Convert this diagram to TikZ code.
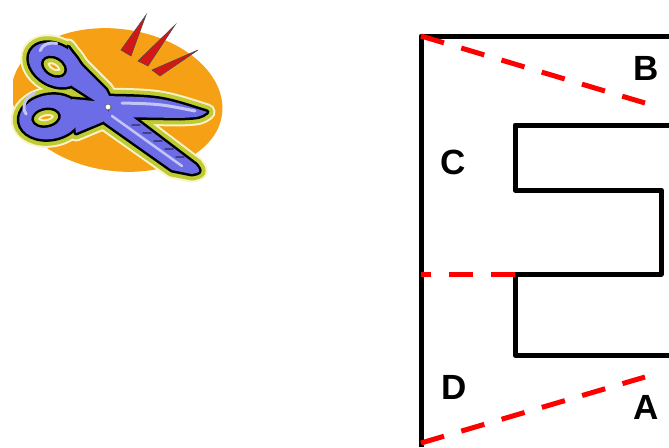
\documentclass[tikz,border=0pt]{standalone}
\usepackage{fontspec}
\setmainfont{Liberation Sans}
\definecolor{scblue}{RGB}{108,108,230}
\definecolor{schalo}{RGB}{190,204,50}
\definecolor{scglow}{RGB}{250,242,200}
\definecolor{scorange}{RGB}{246,160,22}
\definecolor{scred}{RGB}{212,22,22}
\newcommand\scissorparts[1]{%
	\path[#1,even odd rule,rotate around={-30:(55,65)}] (55,65) ellipse (28 and 20) (55,67) ellipse (14 and 10);
	\path[#1,even odd rule,rotate around={10:(50,117)}] (50,117) ellipse (31 and 22) (46,117) ellipse (15 and 10);
	\path[#1] (72,99) -- (105,102) -- (111,118) -- (100,123) -- (76,133) -- cycle;
	\path[#1] (100,96) .. controls (160,97) .. (207,112) .. controls (200,117) .. (180,118) -- (115,117) -- cycle;
	\path[#1] (68,47) -- (82,66) -- (106,90) -- (116,110) -- (100,104) -- (72,86) -- cycle;
	\path[#1] (110,108) -- (126,112) -- (196,165) .. controls (201,172) .. (192,174) -- (172,170) -- (104,122) -- cycle;
}
\begin{document}
\begin{tikzpicture}[x=1pt,y=-1pt,line cap=butt,line join=miter]
	\useasboundingbox (0,0) rectangle (669,447);
	\tikzset{
		edge/.style={line width=5pt,line join=round},
		cut/.style={red,line width=5pt,dash pattern=on 24pt off 18pt},
		lbl/.style={font=\fontsize{35}{35}\selectfont\bfseries,inner sep=0pt}
	}
	
	% scissors
	\begin{scope}
		\clip (13,0) rectangle (240,200);
		\fill[scorange,rotate around={-8:(117,100)}] (117,100) ellipse (106 and 71);
	\end{scope}
	\foreach \tx/\ty/\ax/\ay/\bx/\by in {146/15/121/50/131/56,175/25/138/61/148/66,198/50/152/70/160/76}{
		\draw[fill=scred,draw=black!70,line width=0.6pt] (\tx,\ty) -- (\ax,\ay) -- (\bx,\by) -- cycle;
	}
	\scissorparts{draw=scglow,line width=17pt,line join=round}
	\scissorparts{draw=schalo,line width=13pt,line join=round}
	\scissorparts{draw=black,line width=5pt,line join=round}
	\scissorparts{fill=scblue}
	% shine on the blades
	\draw[white!60!scblue,line width=3pt,line cap=round] (122,103) .. controls (160,104) .. (195,111);
	\draw[white!60!scblue,line width=2.5pt,line cap=round] (112,116) -- (182,166);
	\foreach \s in {0,1,2,3,4}{
		\draw[black!40!scblue,line width=1.5pt,line cap=round] (132+11*\s,125+8*\s) -- (140+11*\s,125+8*\s);
	}
	\draw[white!60!scblue,line width=3pt,line cap=round,rotate around={10:(50,117)}] (27,110) arc (160:250:19 and 15);
	\draw[white!60!scblue,line width=3pt,line cap=round,rotate around={-30:(55,65)}] (35,60) arc (170:250:17 and 13);
	\draw[fill=white,draw=black!60,line width=0.8pt] (108,107) circle (3);
	
	% frame and slot
	\coordinate (P) at (421,447);
	\coordinate (Q) at (421,36);
	\coordinate (R) at (672,36);
	\draw[edge] (P) -- (Q) -- (R);
	\draw[edge] (672,125) -- (515,125) -- (515,190) -- (661,190) -- (661,274)
		-- (515,274) -- (515,355) -- (672,355);
	
	% cutting lines
	\draw[cut] (Q) -- (645,103);
	\draw[cut] (515,274) -- (421,274);
	\draw[cut] (421,443) -- (645,377);
	
	\node[lbl] (B) at (646,68) {B};
	\node[lbl] (C) at (453,162) {C};
	\node[lbl] (D) at (454,387) {D};
	\node[lbl] (A) at (646,407) {A};
\end{tikzpicture}
\end{document}
